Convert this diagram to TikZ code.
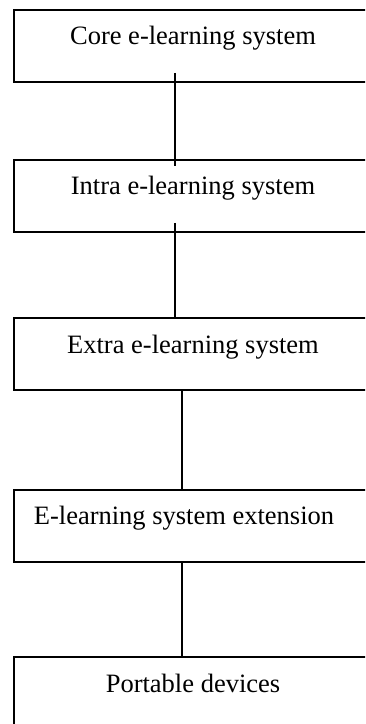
\documentclass[tikz,border=0pt]{standalone}
\usepackage{fontspec}
\setmainfont{Liberation Serif}
\begin{document}
\begin{tikzpicture}[x=1pt,y=-1pt,
  layer/.style={draw=black, line width=1.8pt, rectangle, inner sep=0pt,
    minimum width=360pt, minimum height=72pt, anchor=north west},
  caption/.style={anchor=base, inner sep=0pt,
    font=\fontsize{26.5}{30}\selectfont},
  link/.style={draw=black, line width=1.8pt}]
\useasboundingbox (0,0) rectangle (365,724);
\clip (0,0) rectangle (365,724);

% stacked system layers
\node[layer] (b1) at (13,9)   {};
\node[layer] (b2) at (13,159) {};
\node[layer] (b3) at (13,317) {};
\node[layer] (b4) at (13,489) {};
\node[layer] (b5) at (13,656) {};

% layer captions
\node[caption] (t1) at (193,44)  {Core e-learning system};
\node[caption] (t2) at (193,194) {Intra e-learning system};
\node[caption] (t3) at (193,353) {Extra e-learning system};
\node[caption] (t4) at (184,524) {E-learning system extension};
\node[caption] (t5) at (193,692) {Portable devices};

% vertical links between layers
\draw[link] ([xshift=-19pt,yshift=10pt]b1.south) -- ([xshift=-19pt,yshift=-7pt]b2.north);
\draw[link] ([xshift=-19pt,yshift=10pt]b2.south) -- ([xshift=-19pt,yshift=-1pt]b3.north);
\draw[link] ([xshift=-12pt]b3.south) -- ([xshift=-12pt]b4.north);
\draw[link] ([xshift=-12pt]b4.south) -- ([xshift=-12pt]b5.north);
\end{tikzpicture}
\end{document}
